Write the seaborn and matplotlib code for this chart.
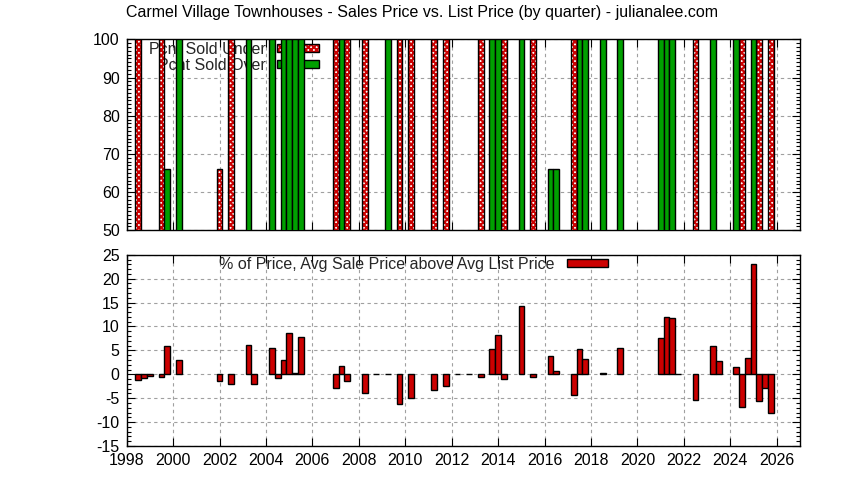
import numpy as np
import matplotlib
matplotlib.use("Agg")
import matplotlib.pyplot as plt
from matplotlib.patches import Patch
from matplotlib.legend_handler import HandlerTuple
from matplotlib.ticker import MultipleLocator
import seaborn as sns

TITLE = "Carmel Village Townhouses - Sales Price vs. List Price (by quarter) - julianalee.com"

# quarter positions (year + quarter/4) and values
under_x = [1998.5, 1999.5, 2002.0, 2002.5, 2007.0, 2007.5, 2008.25, 2009.75, 2010.25,
           2011.25, 2011.75, 2013.25, 2014.25, 2015.5, 2017.25, 2022.5, 2024.5,
           2025.25, 2025.75]
under_pct = [100, 100, 66, 100, 100, 100, 100, 100, 100,
             100, 100, 100, 100, 100, 100, 100, 100,
             100, 100]

over_x = [1999.75, 2000.25, 2003.25, 2004.25, 2004.75, 2005.0, 2005.25, 2005.5, 2007.25,
          2009.25, 2013.75, 2014.0, 2015.0, 2016.25, 2016.5, 2017.5, 2017.75, 2018.5,
          2019.25, 2021.0, 2021.25, 2021.5, 2023.25, 2024.25, 2025.0]
over_pct = [66, 100, 100, 100, 100, 100, 100, 100, 100,
            100, 100, 100, 100, 66, 66, 100, 100, 100,
            100, 100, 100, 100, 100, 100, 100]

diff_x = [1998.5, 1998.75, 1999.0, 1999.5, 1999.75, 2000.25, 2002.0, 2002.5, 2003.25,
          2003.5, 2004.25, 2004.5, 2004.75, 2005.0, 2005.25, 2005.5, 2007.0, 2007.25,
          2007.5, 2008.25, 2008.75, 2009.25, 2009.75, 2010.25, 2011.25, 2011.75, 2012.25,
          2012.75, 2013.25, 2013.75, 2014.0, 2014.25, 2015.0, 2015.5, 2016.25, 2016.5,
          2017.25, 2017.5, 2017.75, 2018.5, 2019.25, 2021.0, 2021.25, 2021.5, 2021.75,
          2022.5, 2023.25, 2023.5, 2024.25, 2024.5, 2024.75, 2025.0, 2025.25, 2025.5,
          2025.75]
diff_pct = [-1.1, -0.8, -0.4, -0.6, 6.0, 2.9, -1.3, -2.1, 6.2,
            -2.0, 5.4, -0.7, 2.9, 8.7, 0.2, 7.9, -2.9, 1.7,
            -1.5, -4.0, 0.0, 0.0, -6.3, -5.0, -3.3, -2.5, 0.0,
            0.0, -0.6, 5.2, 8.3, -1.0, 14.2, -0.6, 3.9, 0.6,
            -4.4, 5.2, 3.3, 0.2, 5.4, 7.5, 11.9, 11.7, 0.0,
            -5.4, 6.0, 2.7, 1.5, -6.9, 3.5, 23.1, -5.6, -2.9,
            -8.0]

RED = "#cc0000"
GREEN = "#00a000"
HATCH = "xxxxxx"
FS = 11.5

sns.set_theme(style="ticks")
plt.rcParams["font.family"] = ["Liberation Sans", "DejaVu Sans"]
plt.rcParams["axes.unicode_minus"] = False
plt.rcParams["hatch.linewidth"] = 1.5
plt.rcParams["hatch.color"] = RED


def qbars(ax, x, y, **kw):
    # one bar per quarter, 0.25 year wide
    step = np.diff(np.sort(x)).min()
    sns.barplot(x=x, y=y, native_scale=True, width=0.25 / step, errorbar=None,
                saturation=1, ax=ax, zorder=3, **kw)


def style_axes(ax, ymin, ymax, major, labels_x):
    ax.set_xlim(1998, 2027)
    ax.set_ylim(ymin, ymax)
    ax.xaxis.set_major_locator(MultipleLocator(2))
    ax.yaxis.set_major_locator(MultipleLocator(major))
    ax.yaxis.set_minor_locator(MultipleLocator(1))
    ax.set_axisbelow(True)
    ax.grid(True, which="major", color="#a0a0a0", linestyle=(0, (3, 3)), linewidth=0.8)
    ax.tick_params(which="both", direction="in", top=True, right=True,
                   colors="black", labelsize=FS, width=0.8)
    ax.tick_params(which="major", length=6, pad=5)
    ax.tick_params(which="minor", length=3)
    ax.tick_params(axis="x", labelbottom=labels_x)
    for s in ax.spines.values():
        s.set_color("black")
        s.set_linewidth(1.0)
    ax.set_xlabel("")
    ax.set_ylabel("")


fig = plt.figure(figsize=(8.44, 4.8), dpi=100)
ax1 = fig.add_axes([0.1501, 0.5202, 0.7978, 0.3979])
ax2 = fig.add_axes([0.1501, 0.0708, 0.7978, 0.3985])

# top panel: percent of sales under / over list price
qbars(ax1, under_x, under_pct, color="white", edgecolor=RED, hatch=HATCH, linewidth=0)
qbars(ax1, under_x, under_pct, fill=False, edgecolor="black", linewidth=1.0)
qbars(ax1, over_x, over_pct, color=GREEN, edgecolor="black", linewidth=1.0)
style_axes(ax1, 50, 100, 10, False)

h_under = (Patch(facecolor="white", edgecolor=RED, hatch=HATCH, linewidth=0),
           Patch(fill=False, edgecolor="black", linewidth=1.0))
h_over = Patch(facecolor=GREEN, edgecolor="black", linewidth=1.0)
leg1 = ax1.legend([h_under, h_over], ["Pcnt Sold Under", "Pcnt Sold Over"],
                  loc="upper right", bbox_to_anchor=(0.2856, 0.985),
                  frameon=False, markerfirst=False, fontsize=FS,
                  handlelength=2.6, handleheight=0.4, handletextpad=0.75,
                  borderpad=0, borderaxespad=0, labelspacing=0.05,
                  handler_map={tuple: HandlerTuple(ndivide=1)})
leg1.set_zorder(1)

# bottom panel: avg sale price vs avg list price
qbars(ax2, diff_x, diff_pct, color=RED, edgecolor="black", linewidth=1.0)
style_axes(ax2, -15, 25, 5, True)
leg2 = ax2.legend([Patch(facecolor=RED, edgecolor="black", linewidth=1.0)],
                  ["% of Price, Avg Sale Price above Avg List Price"],
                  loc="upper right", bbox_to_anchor=(0.715, 0.99),
                  frameon=False, markerfirst=False, fontsize=FS,
                  handlelength=2.6, handleheight=0.4, handletextpad=0.75,
                  borderpad=0, borderaxespad=0)
leg2.set_zorder(1)

fig.text(0.5, 1 - 12 / 480, TITLE, ha="center", va="center", fontsize=FS, color="black")

fig.savefig("out.png", dpi=100)
